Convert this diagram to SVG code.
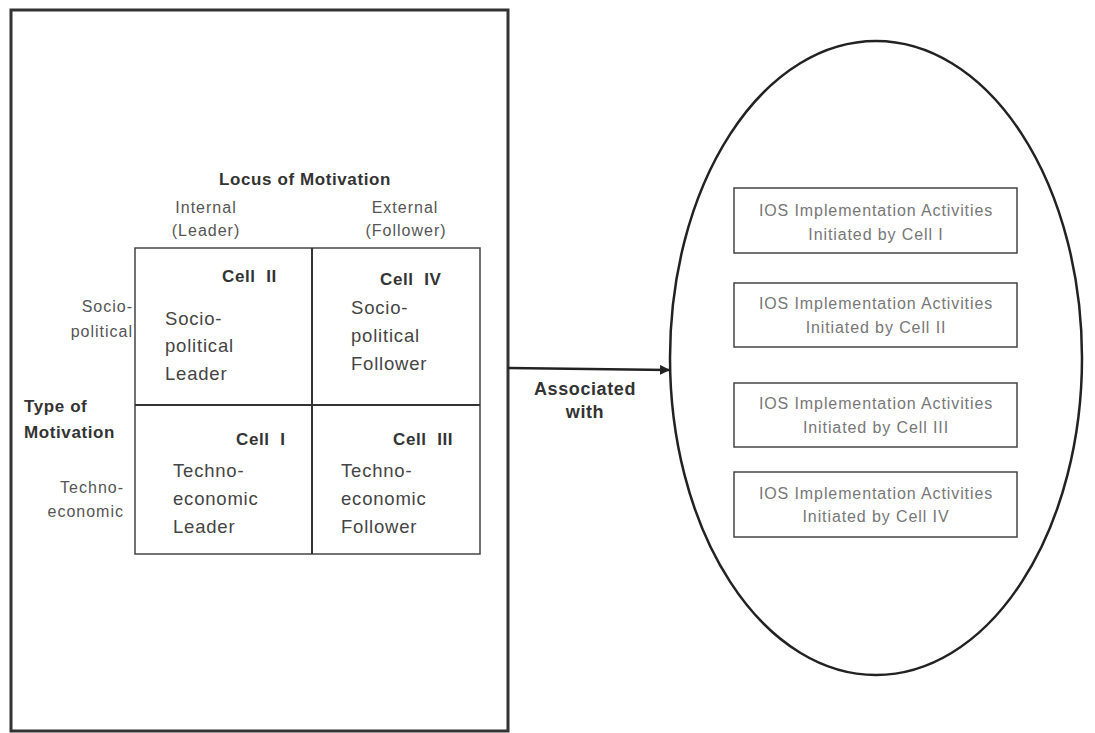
<svg xmlns="http://www.w3.org/2000/svg" width="1095" height="733" viewBox="0 0 1095 733">
<defs>
<marker id="ah" markerWidth="10" markerHeight="10" refX="9" refY="5" orient="auto" markerUnits="userSpaceOnUse"><path d="M0,0 L10,5 L0,10 Z" fill="#222"/></marker>
<style>
text{font-family:"Liberation Sans",Arial,sans-serif;}
.b{font-weight:bold;fill:#333;font-size:17px;letter-spacing:0.6px;}
.l{fill:#555;font-size:16px;letter-spacing:1px;}
.c{fill:#444;font-size:18.5px;letter-spacing:0.8px;}
.ios{fill:#777;font-size:16px;letter-spacing:0.9px;text-anchor:middle;}
.box{fill:none;stroke:#444;stroke-width:1.5;}
</style>
</defs>
<rect width="1095" height="733" fill="#fff"/>
<g id="frame"><rect x="11" y="10" width="497" height="721" fill="none" stroke="#333" stroke-width="3"/></g>
<g id="axis-labels">
<text class="b" x="305" y="185" text-anchor="middle">Locus of Motivation</text>
<text class="l" x="206" y="213" text-anchor="middle">Internal</text>
<text class="l" x="206" y="236" text-anchor="middle">(Leader)</text>
<text class="l" x="405" y="213" text-anchor="middle">External</text>
<text class="l" x="406" y="236" text-anchor="middle">(Follower)</text>
<text class="l" x="133" y="312" text-anchor="end">Socio-</text>
<text class="l" x="133" y="337" text-anchor="end">political</text>
<text class="b" x="24" y="412">Type of</text>
<text class="b" x="24" y="438">Motivation</text>
<text class="l" x="124" y="493" text-anchor="end">Techno-</text>
<text class="l" x="124" y="517" text-anchor="end">economic</text>
</g>
<g id="grid">
<rect x="135" y="248" width="345" height="306" class="box"/>
<line x1="312" y1="248" x2="312" y2="554" stroke="#333" stroke-width="2"/>
<line x1="135" y1="405" x2="480" y2="405" stroke="#333" stroke-width="2"/>
</g>
<g id="cell-ii">
<text class="b" x="222" y="282" xml:space="preserve">Cell  II</text>
<text class="c" x="165" y="325">Socio-</text>
<text class="c" x="165" y="352">political</text>
<text class="c" x="165" y="380">Leader</text>
</g>
<g id="cell-iv">
<text class="b" x="380" y="285" xml:space="preserve">Cell  IV</text>
<text class="c" x="351" y="314">Socio-</text>
<text class="c" x="351" y="342">political</text>
<text class="c" x="351" y="370">Follower</text>
</g>
<g id="cell-i">
<text class="b" x="236" y="445" xml:space="preserve">Cell  I</text>
<text class="c" x="173" y="477">Techno-</text>
<text class="c" x="173" y="505">economic</text>
<text class="c" x="173" y="533">Leader</text>
</g>
<g id="cell-iii">
<text class="b" x="393" y="445" xml:space="preserve">Cell  III</text>
<text class="c" x="341" y="477">Techno-</text>
<text class="c" x="341" y="505">economic</text>
<text class="c" x="341" y="533">Follower</text>
</g>
<g id="connectors">
<line x1="508" y1="368" x2="669" y2="370" stroke="#222" stroke-width="2.5" marker-end="url(#ah)"/>
<text class="b" x="585" y="395" text-anchor="middle" style="font-size:18px">Associated</text>
<text class="b" x="585" y="418" text-anchor="middle" style="font-size:18px">with</text>
</g>
<g id="ellipse"><ellipse cx="876" cy="358" rx="206" ry="317" fill="none" stroke="#222" stroke-width="2.5"/></g>
<g id="ios-1">
<rect x="734" y="188" width="283" height="65" class="box"/>
<text class="ios" x="876" y="216">IOS Implementation Activities</text>
<text class="ios" x="876" y="240">Initiated by Cell I</text>
</g>
<g id="ios-2">
<rect x="734" y="283" width="283" height="64" class="box"/>
<text class="ios" x="876" y="309">IOS Implementation Activities</text>
<text class="ios" x="876" y="333">Initiated by Cell II</text>
</g>
<g id="ios-3">
<rect x="734" y="383" width="283" height="64" class="box"/>
<text class="ios" x="876" y="409">IOS Implementation Activities</text>
<text class="ios" x="876" y="433">Initiated by Cell III</text>
</g>
<g id="ios-4">
<rect x="734" y="472" width="283" height="65" class="box"/>
<text class="ios" x="876" y="499">IOS Implementation Activities</text>
<text class="ios" x="876" y="522">Initiated by Cell IV</text>
</g>
</svg>
